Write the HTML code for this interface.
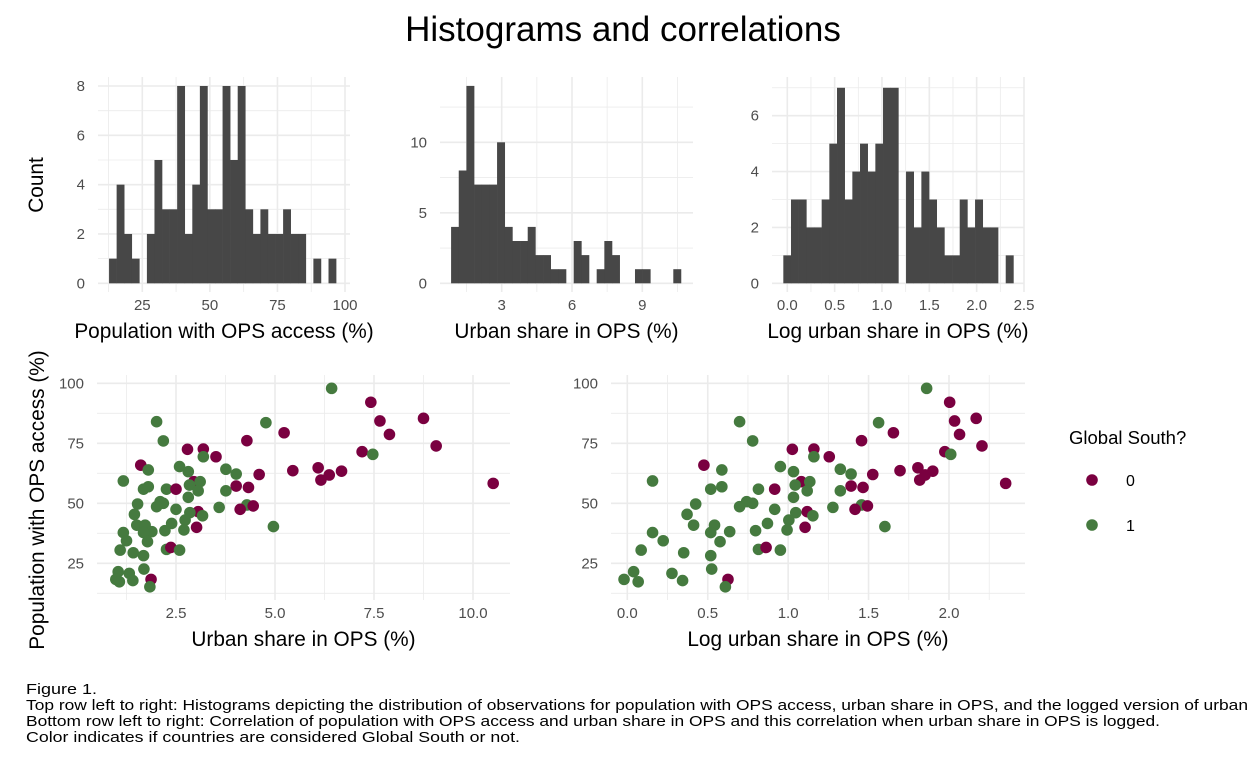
<!DOCTYPE html>
<html><head><meta charset="utf-8">
<style>
body{margin:0;background:#fff;}
svg{display:block;font-family:"Liberation Sans",Arial,sans-serif;}
.tk{font-size:15px;fill:#4d4d4d;}
.at{font-size:20.8px;fill:#000;}
.cap{font-size:14.5px;fill:#000;}
</style></head>
<body>
<svg id="chart" width="1248" height="768" viewBox="0 0 1248 768" xmlns="http://www.w3.org/2000/svg">
<text x="623" y="41" text-anchor="middle" font-size="35" fill="#000">Histograms and correlations</text>
<g id="layer"></g>
<g>
<text x="1069" y="444" font-size="18.5">Global South?</text>
<circle cx="1092" cy="480" r="5.8" fill="#7a0040"/>
<text x="1126" y="486" font-size="16">0</text>
<circle cx="1092" cy="525" r="5.8" fill="#457a3f"/>
<text x="1126" y="531" font-size="16">1</text>
</g>
<g>
<text class="cap" x="26" y="694" textLength="71" lengthAdjust="spacingAndGlyphs">Figure 1.</text>
<text class="cap" x="26" y="710" textLength="1335" lengthAdjust="spacingAndGlyphs">Top row left to right: Histograms depicting the distribution of observations for population with OPS access, urban share in OPS, and the logged version of urban share in OPS.</text>
<text class="cap" x="26" y="726" textLength="1134" lengthAdjust="spacingAndGlyphs">Bottom row left to right: Correlation of population with OPS access and urban share in OPS and this correlation when urban share in OPS is logged.</text>
<text class="cap" x="26" y="742" textLength="494" lengthAdjust="spacingAndGlyphs">Color indicates if countries are considered Global South or not.</text>
</g>
</svg>
<script>
// Histogram data
const h1Counts=[1,4,2,1,0,2,5,3,3,8,2,4,8,3,3,8,5,8,3,2,3,2,2,3,2,2,0,1,0,1];
const h1Start=12.7, h1Width=2.8;
const h2Counts=[4,8,14,7,7,7,10,4,3,3,4,2,2,1,1,0,3,2,0,1,3,2,0,0,1,1,0,0,0,1];
const h2Start=0.84, h2Width=0.327;
const h3Counts=[1,3,3,2,2,3,5,7,3,4,5,4,5,7,7,0,4,2,4,3,2,1,1,3,2,3,2,2,0,1];
const h3Start=-0.042, h3Width=0.081;
// Scatter data: urban share (%), population with OPS access (%), global south flag
const urban=[2.01,2.18,2.79,3.19,3.19,3.51,1.61,1.80,2.59,2.81,3.76,4.02,4.29,4.60,5.23,5.45,4.77,1.17,2.95,3.11,2.84,1.68,1.80,2.26,2.50,3.06,3.76,4.02,4.33,2.81,2.10,2.18,2.01,1.53,2.50,3.59,4.29,4.12,4.45,3.06,2.85,3.17,1.45,2.73,2.39,1.51,1.72,1.89,1.68,1.17,2.22,2.70,3.02,4.96,1.25,1.78,1.09,1.42,1.68,2.26,2.37,2.59,1.69,1.04,1.32,1.41,0.98,1.07,1.87,1.84,6.43,7.42,7.65,8.75,7.89,9.07,7.20,7.47,6.09,6.37,6.16,6.68,10.51];
const pop=[84,76,72.5,72.6,69.4,69.4,65.9,63.9,65.3,63.2,64.2,62.2,76.1,62.0,79.4,63.6,83.6,59.3,59.0,59.0,57.6,55.9,56.9,55.9,55.9,55.2,55.2,57.2,56.6,52.5,50.7,50.0,48.6,49.7,47.5,48.3,49.3,47.5,48.9,46.5,46.1,44.8,45.4,43.0,41.6,40.9,40.9,38.2,37.8,37.8,38.6,38.9,40.0,40.3,34.4,34.0,30.5,29.4,28.2,30.8,31.6,30.5,22.6,21.5,20.8,17.8,18.3,17.3,18.3,15.2,97.9,92.1,84.3,85.4,78.7,73.9,71.5,70.4,64.8,61.8,59.7,63.4,58.3];
const south=[1,1,0,0,1,0,0,1,1,1,1,1,0,0,0,0,1,1,0,1,1,1,1,1,0,1,1,0,0,1,1,1,1,1,1,1,1,0,0,0,1,1,1,1,1,1,1,1,1,1,1,1,0,1,1,1,1,1,1,1,0,1,1,1,1,1,1,1,0,1,1,0,0,0,0,0,0,1,0,0,0,0,0];
const h1XTicks=[25,50,75,100], h1YTicks=[0,2,4,6,8];
const h2XTicks=[3,6,9], h2YTicks=[0,5,10];
const h3XTicks=[0,0.5,1,1.5,2,2.5], h3YTicks=[0,2,4,6];
const s1XTicks=[2.5,5,7.5,10], sYTicks=[25,50,75,100];
const s2XTicks=[0,0.5,1,1.5,2];

const NS="http://www.w3.org/2000/svg";
const layer=document.getElementById('layer');
function mk(tag,attrs,parent){const e=document.createElementNS(NS,tag);for(const k in attrs)e.setAttribute(k,attrs[k]);(parent||layer).appendChild(e);return e;}
function lin(v0,p0,v1,p1){return v=>p0+(v-v0)*(p1-p0)/(v1-v0);}

function panel(name,o){
  const g=mk('g',{});
  
  
  const {x,y,L,R,T,B}=o;
  o.xMinor.forEach(v=>{const l=mk('line',{x1:x(v),x2:x(v),y1:T,y2:B,stroke:'#ebebeb','stroke-width':0.8},g);});
  o.yMinor.forEach(v=>{const l=mk('line',{x1:L,x2:R,y1:y(v),y2:y(v),stroke:'#ebebeb','stroke-width':0.8},g);});
  o.xTicks.forEach(v=>{const l=mk('line',{x1:x(v),x2:x(v),y1:T,y2:B,stroke:'#ebebeb','stroke-width':1.6},g);
    const t=mk('text',{x:x(v),y:B+18,'text-anchor':'middle',class:'tk'},g);t.textContent=o.xFmt(v);});
  o.yTicks.forEach(v=>{const l=mk('line',{x1:L,x2:R,y1:y(v),y2:y(v),stroke:'#ebebeb','stroke-width':1.6},g);
    const t=mk('text',{x:L-13,y:y(v)+5,'text-anchor':'end',class:'tk'},g);t.textContent=String(v);});
  const t=mk('text',{x:(L+R)/2,y:B+46,'text-anchor':'middle',class:'at'},g);t.textContent=o.xTitle;
  
  
  return g;
}
function hist(name,counts,start,width,x,y,o){
  const g=panel(name,Object.assign({x,y},o));
  counts.forEach((c,i)=>{if(!c)return;const x0=x(start+i*width),x1=x(start+(i+1)*width);
    const r=mk('rect',{x:x0,y:y(c),width:x1-x0+0.3,height:y(0)-y(c),fill:'#474747'},g);
    
    });
}
const f1=v=>String(v), f2=v=>v.toFixed(1);
const hx1=lin(25,142.3,100,345), hy1=lin(0,283.3,8,86);
hist('histogram-population',h1Counts,h1Start,h1Width,hx1,hy1,{L:98,R:350,T:77,B:292,xTicks:h1XTicks,yTicks:h1YTicks,xMinor:[12.5,37.5,62.5,87.5],yMinor:[1,3,5,7],xFmt:f1,xTitle:'Population with OPS access (%)'});
const hx2=lin(3,501.7,9,642.3), hy2=lin(0,283.3,10,142.3);
hist('histogram-urban-share',h2Counts,h2Start,h2Width,hx2,hy2,{L:440,R:693,T:77,B:292,xTicks:h2XTicks,yTicks:h2YTicks,xMinor:[1.5,4.5,7.5,10.5],yMinor:[2.5,7.5,12.5],xFmt:f1,xTitle:'Urban share in OPS (%)'});
const hx3=lin(0,787.3,2.5,1024), hy3=lin(0,283.3,6,115.7);
hist('histogram-log-urban-share',h3Counts,h3Start,h3Width,hx3,hy3,{L:772,R:1024,T:77,B:292,xTicks:h3XTicks,yTicks:h3YTicks,xMinor:[0.25,0.75,1.25,1.75,2.25],yMinor:[1,3,5,7],xFmt:f2,xTitle:'Log urban share in OPS (%)'});
const sy=lin(100,383.3,25,563.3);
const sx1=lin(2.5,176,10,473);
const sx2=lin(0,627.3,2,949);
function scatter(name,xs,xf,o){
  const g=panel(name,Object.assign({x:xf,y:sy},o));
  xs.forEach((v,i)=>{const c=mk('circle',{cx:xf(v),cy:sy(pop[i]),r:5.8,fill:south[i]?'#457a3f':'#7a0040'},g);
    
    });
}
scatter('scatter-urban-share',urban,sx1,{L:97,R:510,T:375,B:600,xTicks:s1XTicks,yTicks:sYTicks,xMinor:[1.25,3.75,6.25,8.75],yMinor:[12.5,37.5,62.5,87.5],xFmt:f2,xTitle:'Urban share in OPS (%)'});
const logUrban=urban.map(v=>Math.log(v));
scatter('scatter-log-urban-share',logUrban,sx2,{L:611,R:1025,T:375,B:600,xTicks:s2XTicks,yTicks:sYTicks,xMinor:[0.25,0.75,1.25,1.75,2.25],yMinor:[12.5,37.5,62.5,87.5],xFmt:f2,xTitle:'Log urban share in OPS (%)'});
let t=mk('text',{x:0,y:0,class:'at',transform:'translate(43,185) rotate(-90)','text-anchor':'middle'});t.textContent='Count';


t=mk('text',{x:0,y:0,class:'at',transform:'translate(44,500) rotate(-90)','text-anchor':'middle'});t.textContent='Population with OPS access (%)';


</script>
</body></html>
